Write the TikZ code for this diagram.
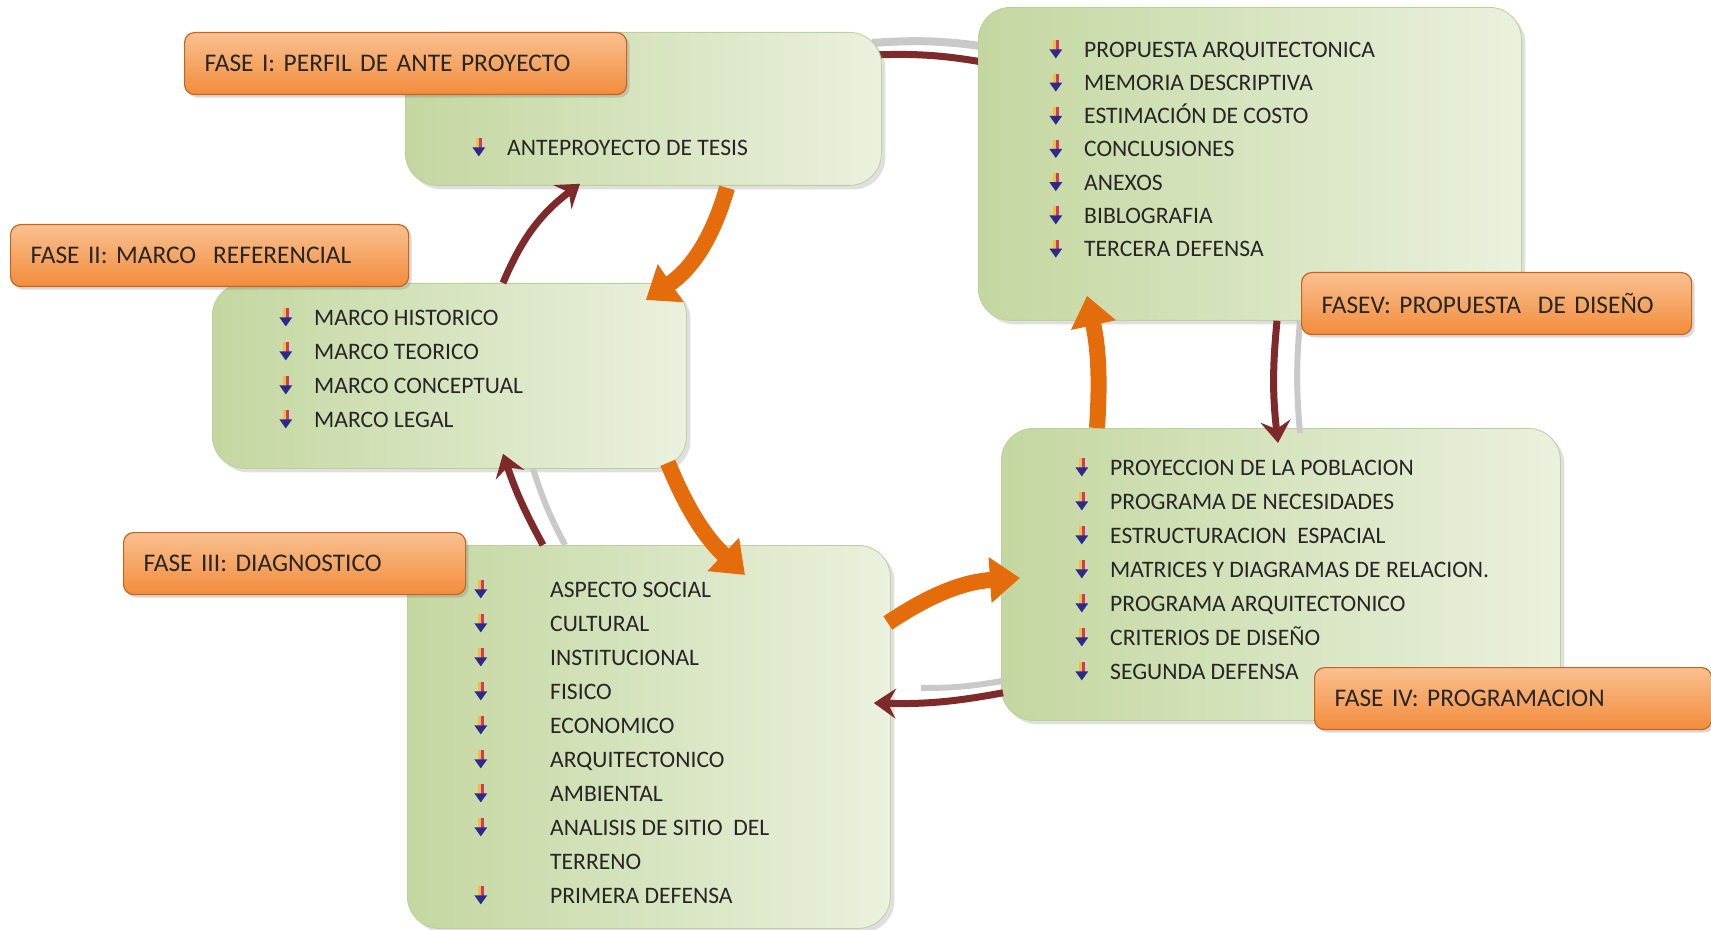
\documentclass[tikz,border=0pt]{standalone}
\usepackage{fontspec}
\setmainfont{Carlito}
\usepackage{xcolor}
\usepackage{tikz}
\usetikzlibrary{arrows.meta, positioning, calc, backgrounds, shadows}
\frenchspacing

\definecolor{verdeOsc}{HTML}{C4D7A0}
\definecolor{verdeCla}{HTML}{EAF1DE}
\definecolor{verdeBorde}{HTML}{BCCF9C}
\definecolor{naranjaCla}{HTML}{FAC090}
\definecolor{naranja}{HTML}{F28C3C}
\definecolor{naranjaBorde}{HTML}{C8641E}
\definecolor{flechaNar}{HTML}{E46C0A}
\definecolor{granate}{HTML}{7E2A2A}
\definecolor{grisSombra}{HTML}{C9C9C9}
\definecolor{texto}{HTML}{262626}
\definecolor{bulAm}{HTML}{F2BE3C}
\definecolor{bulRo}{HTML}{D0366A}
\definecolor{bulAz}{HTML}{2E2A8C}

% small coloured down arrow used as bullet
\newcommand{\flecha}{\tikz[x=1pt,y=1pt,baseline=0pt]{%
  \fill[bulAm] (-1.5,3.5) rectangle (0,8.5);
  \fill[bulRo] (0,3.5) rectangle (1.5,8.5);
  \fill[bulAz] (-3.2,4) -- (3.2,4) -- (0,-0.5) -- cycle;}}

\begin{document}
\begin{tikzpicture}[
    x=0.5pt, y=0.5pt,
    caja/.style={draw=verdeBorde, line width=0.4pt, rounded corners=16pt, left color=verdeOsc, right color=verdeCla, anchor=north west, drop shadow={shadow xshift=2pt, shadow yshift=-2pt, opacity=0.25}},
    fase/.style={draw=naranjaBorde, line width=0.6pt, rounded corners=5pt, top color=naranjaCla, bottom color=naranja, anchor=north west, font=\fontsize{12.7}{15}\selectfont, text=texto, align=left, inner xsep=10pt, minimum height=31pt, drop shadow={shadow xshift=1.5pt, shadow yshift=-1.5pt, opacity=0.3}},
    lista/.style={anchor=north west, inner sep=0pt, align=left, font=\fontsize{11.8}{17}\selectfont, text=texto},
    avance/.style={draw=flechaNar, line width=8pt, -{Triangle[length=15pt,width=22pt]}},
    retorno/.style={draw=granate, line width=3.5pt, -{Stealth[length=11pt,width=15pt,inset=4pt]}},
    sombra/.style={draw=grisSombra, line width=3pt}
]
\useasboundingbox (0,0) rectangle (1711,-930);

% Phase boxes
\node[caja, minimum width=238pt, minimum height=76.5pt] (ante) at (405,-32) {};
\node[caja, minimum width=237pt, minimum height=92.5pt] (marco) at (212,-283) {};
\node[caja, minimum width=241.5pt, minimum height=191.5pt] (diag) at (407,-545) {};
\node[caja, minimum width=279.5pt, minimum height=146pt] (prog) at (1001,-428) {};
\node[caja, minimum width=271.5pt, minimum height=156.5pt] (prop) at (978,-7) {};

% Contents
\node[lista] (anteL) at (472,-138) {\flecha\hspace{11pt}ANTEPROYECTO DE TESIS};
\node[lista] (marcoL) at (279,-308) {\flecha\hspace{11pt}MARCO HISTORICO\\
  \flecha\hspace{11pt}MARCO TEORICO\\
  \flecha\hspace{11pt}MARCO CONCEPTUAL\\
  \flecha\hspace{11pt}MARCO LEGAL};
\node[lista] (diagL) at (474,-580) {\flecha\hspace{31.5pt}ASPECTO SOCIAL\\
  \flecha\hspace{31.5pt}CULTURAL\\
  \flecha\hspace{31.5pt}INSTITUCIONAL\\
  \flecha\hspace{31.5pt}FISICO\\
  \flecha\hspace{31.5pt}ECONOMICO\\
  \flecha\hspace{31.5pt}ARQUITECTONICO\\
  \flecha\hspace{31.5pt}AMBIENTAL\\
  \flecha\hspace{31.5pt}ANALISIS DE SITIO\ \ DEL\\
  \phantom{\flecha}\hspace{31.5pt}TERRENO\\
  \flecha\hspace{31.5pt}PRIMERA DEFENSA};
\node[lista] (progL) at (1075,-458) {\flecha\hspace{11pt}PROYECCION DE LA POBLACION\\
  \flecha\hspace{11pt}PROGRAMA DE NECESIDADES\\
  \flecha\hspace{11pt}ESTRUCTURACION\ \ ESPACIAL\\
  \flecha\hspace{11pt}MATRICES Y DIAGRAMAS DE RELACION.\\
  \flecha\hspace{11pt}PROGRAMA ARQUITECTONICO\\
  \flecha\hspace{11pt}CRITERIOS DE DISEÑO\\
  \flecha\hspace{11pt}SEGUNDA DEFENSA};
\node[lista, font=\fontsize{11.8}{16.6}\selectfont] (propL) at (1049,-40) {\flecha\hspace{11pt}PROPUESTA ARQUITECTONICA\\
  \flecha\hspace{11pt}MEMORIA DESCRIPTIVA\\
  \flecha\hspace{11pt}ESTIMACIÓN DE COSTO\\
  \flecha\hspace{11pt}CONCLUSIONES\\
  \flecha\hspace{11pt}ANEXOS\\
  \flecha\hspace{11pt}BIBLOGRAFIA\\
  \flecha\hspace{11pt}TERCERA DEFENSA};

% Link between phase I and phase V
\begin{scope}[on background layer]
\draw[sombra, line width=4pt] ($(ante.north east)+(-10,-11)$) to[bend left=6] ($(prop.north west)+(10,-40)$);
\draw[granate, line width=3.5pt] ($(ante.north east)+(-10,-23)$) to[bend left=6] ($(prop.north west)+(10,-56)$);
\end{scope}

% Forward arrows
\draw[avance] ($(ante.south west)+(322,-2)$) to[bend left=20] ($(marco.north east)+(-41,-17)$);
\draw[avance] ($(marco.south east)+(-19,6)$) to[bend right=12] ($(diag.north west)+(338,-30)$);
\draw[avance] ($(diag.north east)+(-3,-78)$) to[bend left=15] ($(prog.north west)+(19,-150)$);
\draw[avance] ($(prog.north west)+(96,0)$) to[bend right=8] ($(prop.south west)+(109,25)$);

% Return arrows
\draw[retorno] ($(marco.north west)+(291,0)$) to[bend left=15] ($(ante.south west)+(175,2)$);
\draw[sombra] ($(diag.north west)+(158,0)$) to[bend left=5] ($(marco.south west)+(321,0)$);
\draw[retorno] ($(diag.north west)+(136,0)$) to[bend left=5] ($(marco.south west)+(291,15)$);
\draw[sombra] ($(prog.south west)+(2,40)$) to[bend left=5] ($(diag.north east)+(30,-143)$);
\draw[retorno] ($(prog.south west)+(2,28)$) to[bend left=6] ($(diag.north east)+(-17,-158)$);
\draw[sombra] ($(prop.south west)+(322,0)$) to[bend right=5] ($(prog.north west)+(299,-5)$);
\draw[retorno] ($(prop.south west)+(299,0)$) to[bend right=6] ($(prog.north west)+(277,-15)$);

% Phase labels
\node[fase, text width=201pt] (faseI) at (184,-32) {FASE I: PERFIL DE ANTE PROYECTO};
\node[fase, text width=179pt] (faseII) at (10,-224) {FASE II: MARCO\ \ REFERENCIAL};
\node[fase, text width=151pt] (faseIII) at (123,-532) {FASE III: DIAGNOSTICO};
\node[fase, text width=178.5pt] (faseIV) at (1314,-667) {FASE IV: PROGRAMACION};
\node[fase, text width=175pt] (faseV) at (1301,-272) {FASEV: PROPUESTA\ \ DE DISEÑO};
\end{tikzpicture}
\end{document}
